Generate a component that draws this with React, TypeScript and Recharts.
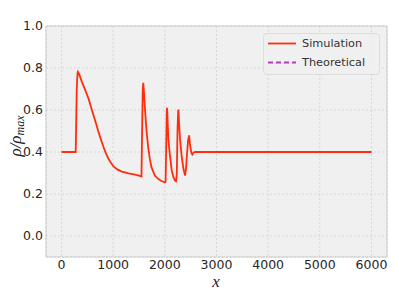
import React from "react"
import { LineChart, Line, XAxis, YAxis, CartesianGrid, ReferenceArea } from "recharts"

// density profile
const simX = [
  0, 275, 282, 295, 310, 318, 340, 394, 460, 523, 570, 619, 670, 716, 765, 813, 860, 909, 960, 1006,
  1080, 1168, 1300, 1425, 1500, 1548, 1560, 1572, 1582, 1595, 1613, 1645, 1677, 1709, 1741, 1806,
  1870, 1934, 2000, 2015, 2028, 2038, 2044, 2052, 2070, 2102, 2134, 2166, 2199, 2218, 2232, 2245,
  2258, 2264, 2275, 2296, 2328, 2360, 2392, 2410, 2425, 2450, 2470, 2489, 2515, 2534, 2553, 2586, 6000,
]
const simRho = [
  0.4, 0.4, 0.5, 0.7, 0.775, 0.782, 0.772, 0.734, 0.695, 0.654, 0.616, 0.575, 0.534, 0.495, 0.458,
  0.424, 0.393, 0.368, 0.347, 0.331, 0.317, 0.307, 0.298, 0.292, 0.287, 0.283, 0.5, 0.69, 0.729, 0.69,
  0.615, 0.503, 0.423, 0.368, 0.328, 0.288, 0.272, 0.262, 0.256, 0.258, 0.45, 0.6, 0.61, 0.56, 0.455,
  0.376, 0.312, 0.28, 0.264, 0.261, 0.3, 0.5, 0.595, 0.602, 0.54, 0.455, 0.376, 0.32, 0.288, 0.32,
  0.376, 0.455, 0.479, 0.431, 0.395, 0.388, 0.397, 0.4, 0.4,
]

const xTicks = [0, 1000, 2000, 3000, 4000, 5000, 6000]
const yTicks = [0, 0.2, 0.4, 0.6, 0.8, 1.0]

const legendItems = [
  { name: "Simulation", color: "#ff2d0d", dash: "" },
  { name: "Theoretical", color: "#b03cc0", dash: "5 3" },
]

const data = simX.map((x, i) => ({ x, sim: simRho[i] }))

const tickStyle = { fontSize: 12.5, fill: "#262626", fontFamily: "DejaVu Sans" }

const LegendBox = () => (
  <div
    style={{
      position: "absolute",
      left: 263,
      top: 33,
      width: 117,
      height: 42,
      boxSizing: "border-box",
      background: "rgba(240,240,240,0.85)",
      border: "1px solid #dddddd",
      borderRadius: 4,
      fontFamily: "DejaVu Sans",
      fontSize: 11.3,
      color: "#333",
    }}
  >
    {legendItems.map((it, i) => (
      <div key={it.name} style={{ position: "absolute", left: 3, top: 2 + i * 19.3, height: 15, display: "flex", alignItems: "center" }}>
        <svg width={30} height={15}>
          <line x1={1} x2={29} y1={7.5} y2={7.5} stroke={it.color} strokeWidth={1.8} strokeDasharray={it.dash} />
        </svg>
        <span style={{ marginLeft: 5, lineHeight: "15px" }}>{it.name}</span>
      </div>
    ))}
  </div>
)

export default function App() {
  return (
    <div style={{ position: "absolute", left: 0, top: 0, width: 399, height: 296, background: "#fff" }}>
      <LineChart width={399} height={296} data={data} margin={{ top: 26, right: 12, left: 0, bottom: 0 }}>
        <CartesianGrid fill="#f0f0f0" stroke="#d6d6d6" strokeDasharray="2 2" />
        <XAxis
          dataKey="x"
          type="number"
          domain={[-300, 6300]}
          ticks={xTicks}
          allowDataOverflow
          height={39}
          tickLine={false}
          axisLine={false}
          tickSize={0}
          tickMargin={3}
          tick={tickStyle}
        />
        <YAxis
          type="number"
          domain={[-0.1, 1.0]}
          ticks={yTicks}
          allowDataOverflow
          width={46}
          tickLine={false}
          axisLine={false}
          tickSize={0}
          tickMargin={3}
          tick={tickStyle}
          tickFormatter={(v: number) => v.toFixed(1)}
        />
        <ReferenceArea x1={-300} x2={6300} y1={-0.1} y2={1.0} fill="none" stroke="#cccccc" strokeWidth={1} />
        <Line
          dataKey="sim"
          type="linear"
          stroke="#ff2d0d"
          strokeWidth={1.8}
          dot={false}
          isAnimationActive={false}
        />
      </LineChart>
      <LegendBox />
      <svg width={399} height={296} style={{ position: "absolute", left: 0, top: 0, pointerEvents: "none" }}>
        <text
          x={0}
          y={0}
          transform="translate(21,136) rotate(-90)"
          textAnchor="middle"
          fontFamily="Liberation Serif"
          fontStyle="italic"
          fontSize={17}
          fill="#222"
        >
          ρ/ρ<tspan fontSize={12} dy={3}>max</tspan>
        </text>
        <text x={216} y={287} textAnchor="middle" fontFamily="Liberation Serif" fontStyle="italic" fontSize={17} fill="#222">
          x
        </text>
      </svg>
    </div>
  )
}
